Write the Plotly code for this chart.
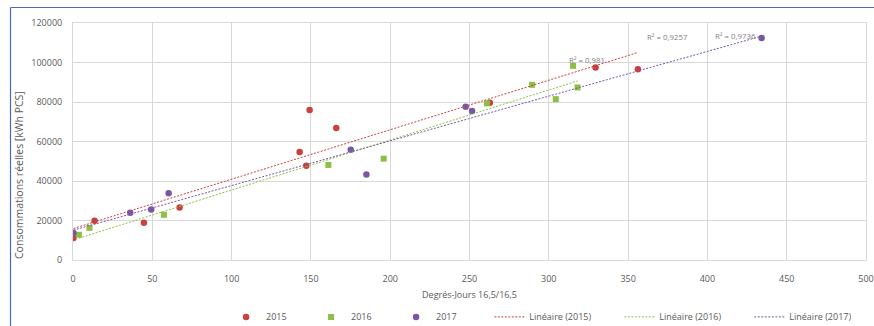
import numpy as np
import plotly.graph_objects as go

# ---- data ----
x_2015 = [0.3, 13.6, 44.7, 67.2, 142.9, 147.1, 149.2, 166.0, 262.8, 329.5, 356.2]
y_2015 = [11100, 19850, 18840, 26570, 54700, 47780, 75900, 66800, 79600, 97470, 96600]

x_2016 = [3.7, 10.4, 57.3, 161.0, 195.9, 261.0, 289.5, 304.4, 315.3, 318.1]
y_2016 = [12780, 16300, 22880, 48130, 51300, 79300, 88700, 81450, 98280, 87370]

x_2017 = [0.3, 36.1, 49.3, 60.3, 175.1, 185.0, 247.6, 251.6, 434.2]
y_2017 = [13640, 23890, 25560, 33840, 55860, 43230, 77580, 75400, 112400]

series_names = ["2015", "2016", "2017"]
trend_names = ["Linéaire (2015)", "Linéaire (2016)", "Linéaire (2017)"]
r2_labels = ["R² = 0,9257", "R² = 0,981", "R² = 0,9736"]
r2_label_x = [375, 324, 418]
r2_label_y = [113070, 101270, 113400]

x_ticks = [0, 50, 100, 150, 200, 250, 300, 350, 400, 450, 500]
y_ticks = [0, 20000, 40000, 60000, 80000, 100000, 120000]

colors = ["#C9413F", "#8DBF45", "#7A57A5"]
symbols = ["circle", "square", "circle"]
sizes = [6.5, 6, 6.5]

FONT = "Open Sans"
GREY = "#595959"

fig = go.Figure()
xs = [x_2015, x_2016, x_2017]
ys = [y_2015, y_2016, y_2017]

for xv, yv, name, c, s, sz in zip(xs, ys, series_names, colors, symbols, sizes):
    fig.add_trace(go.Scatter(x=xv, y=yv, mode="markers", name=name,
                             marker=dict(color=c, symbol=s, size=sz, line=dict(width=0)),
                             legend="legend"))

for xv, yv, name, c in zip(xs, ys, trend_names, colors):
    a, b = np.polyfit(xv, yv, 1)
    xl = np.array([min(xv), max(xv)])
    fig.add_trace(go.Scatter(x=xl, y=a * xl + b, mode="lines", name=name,
                             line=dict(color=c, width=1, dash="2px,1.5px"),
                             legend="legend2"))

for t, xa, ya in zip(r2_labels, r2_label_x, r2_label_y):
    fig.add_annotation(x=xa, y=ya, text=t, showarrow=False,
                       font=dict(family=FONT, size=7.8, color="#7F7F7F"))

# y axis title placed as in reference
fig.add_annotation(xref="paper", yref="paper", x=-0.068, y=0.359, text="Consommations réelles [kWh PCS]",
                   textangle=-90, showarrow=False, xanchor="center", yanchor="middle",
                   font=dict(family=FONT, size=10.5, color=GREY))

# chart border (blue frame)
fig.add_shape(type="line", xref="paper", yref="paper", x0=-0.0788, x1=1.02, y0=1.0654, y1=1.0654,
              line=dict(color="#4A6BAA", width=1.2))
fig.add_shape(type="line", xref="paper", yref="paper", x0=-0.0788, x1=-0.0788, y0=1.0654, y1=-0.3,
              line=dict(color="#4A6BAA", width=1.2))

fig.update_layout(
    width=874, height=326,
    margin=dict(l=73, r=8, t=23, b=66, autoexpand=False),
    paper_bgcolor="white", plot_bgcolor="white",
    font=dict(family=FONT, size=9, color=GREY),
    xaxis=dict(range=[0, 500], tickvals=x_ticks, tickformat="d", showgrid=True, gridcolor="#D9D9D9",
               zeroline=False, showline=True, mirror=True, linecolor="#D9D9D9",
               ticks="", ticklabelstandoff=10,
               title=dict(text="Degrés-Jours 16,5/16,5", font=dict(size=9, color=GREY), standoff=7)),
    yaxis=dict(range=[0, 120000], tickvals=y_ticks, tickformat="d", showgrid=True, gridcolor="#D9D9D9",
               zeroline=False, showline=True, mirror=True, linecolor="#D9D9D9",
               ticks="", ticklabelstandoff=8),
    legend=dict(orientation="h", x=0.193, y=-0.24, xanchor="left", yanchor="middle",
                entrywidth=40, entrywidthmode="pixels", font=dict(size=9, color=GREY),
                bgcolor="rgba(0,0,0,0)"),
    legend2=dict(orientation="h", x=0.525, y=-0.24, xanchor="left", yanchor="middle",
                 entrywidth=85, entrywidthmode="pixels", font=dict(size=9, color=GREY),
                 bgcolor="rgba(0,0,0,0)"),
    showlegend=True,
)

fig.write_html("out.html")
